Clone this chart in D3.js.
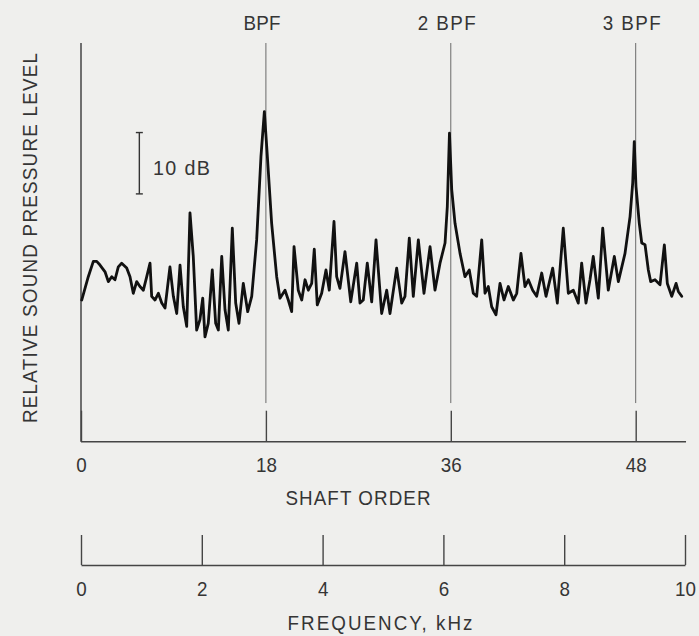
<!DOCTYPE html>
<html>
<head>
<meta charset="utf-8">
<script src="https://cdn.jsdelivr.net/npm/d3@7/dist/d3.min.js"></script>
<style>
  html, body { margin: 0; padding: 0; background: #efefed; }
  svg { display: block; }
  text { font-family: "Liberation Sans", Arial, sans-serif; fill: #353535; }
</style>
</head>
<body>
<script>
// Shaft order of each traced point of the spectrum
const order = [
  0.07, 0.71, 1.20, 1.53, 1.85, 2.34, 2.66, 2.99, 3.31, 3.63, 3.96, 4.45, 4.77, 5.09, 5.42, 5.74,
  6.07, 6.40, 6.72, 6.88, 7.20, 7.53, 7.86, 8.18, 8.66, 8.99, 9.32, 9.64, 9.96, 10.29, 10.61, 10.93,
  11.26, 11.58, 11.85, 12.07, 12.39, 12.78, 13.11, 13.37, 13.70, 14.02, 14.34, 14.73, 15.06, 15.38,
  15.80, 16.23, 16.62, 17.10, 17.52, 17.85, 18.10, 18.56, 19.05, 19.37, 19.86, 20.18, 20.51, 20.74,
  21.15, 21.49, 21.81, 22.13, 22.46, 22.71, 23.00, 23.43, 23.85, 24.17, 24.63, 24.89, 25.21, 25.70,
  26.26, 26.84, 27.16, 27.48, 27.87, 28.30, 28.72, 29.27, 29.76, 30.08, 30.73, 31.22, 31.54, 31.96,
  32.35, 32.84, 33.39, 33.98, 34.46, 34.95, 35.44, 35.66, 35.87, 36.09, 36.41, 36.90, 37.38, 37.80,
  38.19, 38.52, 39.01, 39.33, 39.65, 39.98, 40.40, 40.79, 41.18, 41.60, 42.09, 42.42, 42.83, 43.22,
  43.55, 43.97, 44.36, 44.85, 45.27, 45.92, 46.37, 46.95, 47.44, 47.93, 48.41, 48.74, 49.16, 49.55,
  49.87, 50.36, 50.79, 51.33, 51.92, 52.31, 52.96, 53.45, 53.71, 53.86, 54.03, 54.35, 54.59, 54.91,
  55.23, 55.46, 55.88, 56.37, 56.79, 57.08, 57.51, 57.93, 58.15, 58.48
];

// Relative sound pressure level (dB above the bottom of the frame) at each point
const level = [
  23.1, 26.9, 29.4, 29.4, 28.8, 27.7, 26.1, 26.9, 26.4, 28.5, 29.1, 28.3, 26.9, 24.2, 26.1, 25.3,
  24.7, 26.9, 29.1, 23.7, 23.1, 24.2, 22.6, 21.8, 28.5, 23.7, 20.9, 28.8, 22.0, 18.8, 37.3, 30.2,
  18.2, 19.9, 23.4, 17.1, 19.3, 28.0, 19.3, 18.2, 30.2, 21.5, 18.2, 34.8, 22.6, 19.3,
  25.8, 21.2, 23.7, 32.9, 46.5, 53.8, 47.6, 35.6, 26.9, 23.4, 24.7, 23.1, 21.2, 31.8,
  24.7, 23.1, 26.4, 24.7, 25.8, 31.4, 22.3, 24.2, 28.0, 24.7, 35.9, 26.9, 25.0, 31.0,
  22.8, 29.1, 22.6, 23.1, 29.1, 22.8, 32.9, 20.9, 24.7, 20.9, 28.3, 22.6, 23.7, 33.2,
  23.7, 32.9, 24.2, 31.8, 24.7, 29.1, 32.4, 38.3, 50.3, 41.1, 35.6, 30.7, 26.9, 28.0,
  24.2, 23.7, 32.9, 24.2, 25.3, 22.0, 20.7, 25.8, 23.1, 25.3, 23.1, 24.2, 30.7, 25.3,
  26.4, 24.7, 23.7, 27.5, 23.7, 28.3, 22.6, 34.8, 24.2, 24.7, 22.6, 29.1, 22.6, 26.4,
  30.2, 23.4, 34.8, 24.7, 30.2, 26.1, 30.7, 36.7, 42.2, 48.9, 41.6, 35.6, 32.4, 32.1,
  28.0, 26.1, 26.4, 25.6, 32.1, 25.8, 23.7, 25.8, 24.5, 23.7
];

// Blade-passing-frequency harmonics (shaft order) and their labels
const harmonics = [18, 36, 54];
const harmonicLabels = ["BPF", "2 BPF", "3 BPF"];

// Shaft-order axis ticks and the labels printed under them
const shaftTicks = [0, 18, 36, 54];
const shaftTickLabels = ["0", "18", "36", "48"];

// Frequency axis ticks (kHz)
const freqTicks = [0, 2, 4, 6, 8, 10];

const W = 699, H = 636;
const NARROW = 0.94;   // slight horizontal squeeze for the lettering
const svg = d3.select("body").append("svg").attr("width", W).attr("height", H);

const x = d3.scaleLinear().domain([0, 58.8]).range([81, 685]);
const xf = d3.scaleLinear().domain([0, 10]).range([81, 685]);
const y = d3.scaleLinear().domain([0, 65]).range([441.7, 43]);

const axisColor = "#454545";

// Text placed at (px, py); optional total width
function label(parent, px, py, str, opts = {}) {
  const t = parent.append("text")
    .attr("transform", `translate(${px},${py})${opts.rotate ? " rotate(-90)" : ""} scale(${NARROW},1)`)
    .attr("text-anchor", opts.anchor || "middle")
    .attr("font-size", opts.size || 20)
    .text(str);
  if (opts.width) t.attr("textLength", opts.width / NARROW).attr("lengthAdjust", "spacing");
  return t;
}

// Harmonic reference lines
svg.append("g").selectAll("line").data(harmonics).join("line")
  .attr("x1", d => x(d)).attr("x2", d => x(d))
  .attr("y1", y(65)).attr("y2", y(6.3))
  .attr("stroke", "#6a6a6a").attr("stroke-width", 1);

const gHarm = svg.append("g");
harmonicLabels.forEach((s, i) => {
  label(gHarm, x(harmonics[i]) - 4, 30, s, { size: 20, width: i === 0 ? 37 : 58 });
});

// Vertical level axis
svg.append("line")
  .attr("x1", x(0)).attr("x2", x(0))
  .attr("y1", y(65)).attr("y2", y(0))
  .attr("stroke", axisColor).attr("stroke-width", 1.5);

// Shaft-order axis (ticks point up into the plot)
const shaftAxis = d3.axisBottom(x)
  .tickValues(shaftTicks)
  .tickFormat((d, i) => shaftTickLabels[i])
  .tickSizeInner(-31)
  .tickSizeOuter(0)
  .tickPadding(16);

const gShaft = svg.append("g").attr("transform", `translate(0,${y(0)})`).call(shaftAxis);
gShaft.select(".domain").attr("stroke", axisColor).attr("stroke-width", 1.5)
  .attr("d", `M${x(0)},0H${x(58.9)}`);
gShaft.selectAll(".tick line").attr("stroke", axisColor).attr("stroke-width", 1.4);
gShaft.selectAll(".tick text").attr("font-size", 20).attr("fill", "#353535")
  .attr("font-family", null)
  .attr("transform", `scale(${NARROW},1)`);

label(svg, 358, 505, "SHAFT ORDER", { size: 20, width: 145 });

// Frequency axis
const freqAxis = d3.axisBottom(xf)
  .tickValues(freqTicks)
  .tickFormat(d3.format("d"))
  .tickSizeInner(-30)
  .tickSizeOuter(0)
  .tickPadding(17);

const gFreq = svg.append("g").attr("transform", "translate(0,565)").call(freqAxis);
gFreq.select(".domain").attr("stroke", axisColor).attr("stroke-width", 1.5);
gFreq.selectAll(".tick line").attr("stroke", axisColor).attr("stroke-width", 1.4);
gFreq.selectAll(".tick text").attr("font-size", 20).attr("fill", "#353535")
  .attr("font-family", null)
  .attr("transform", `scale(${NARROW},1)`);

label(svg, 380, 630, "FREQUENCY,  kHz", { size: 20, width: 185 });

// Level axis title
label(svg, 37, 238, "RELATIVE SOUND PRESSURE LEVEL", { size: 20, width: 370, rotate: true });

// 10 dB scale bar
const barX = x(5.68), barLo = 40.4, barHi = barLo + 10;
const bar = svg.append("g").attr("stroke", "#333").attr("stroke-width", 1.4);
bar.append("line").attr("x1", barX).attr("x2", barX).attr("y1", y(barLo)).attr("y2", y(barHi));
bar.append("line").attr("x1", barX - 3.5).attr("x2", barX + 3.5).attr("y1", y(barLo)).attr("y2", y(barLo));
bar.append("line").attr("x1", barX - 3.5).attr("x2", barX + 3.5).attr("y1", y(barHi)).attr("y2", y(barHi));
label(svg, 153, 175, "10 dB", { size: 21, width: 57, anchor: "start" });

// Spectrum trace
const points = order.map((o, i) => [o, level[i]]);
svg.append("path")
  .datum(points)
  .attr("fill", "none")
  .attr("stroke", "#111")
  .attr("stroke-width", 2.8)
  .attr("stroke-linejoin", "round")
  .attr("stroke-linecap", "round")
  .attr("d", d3.line().x(d => x(d[0])).y(d => y(d[1])));
</script>
</body>
</html>
